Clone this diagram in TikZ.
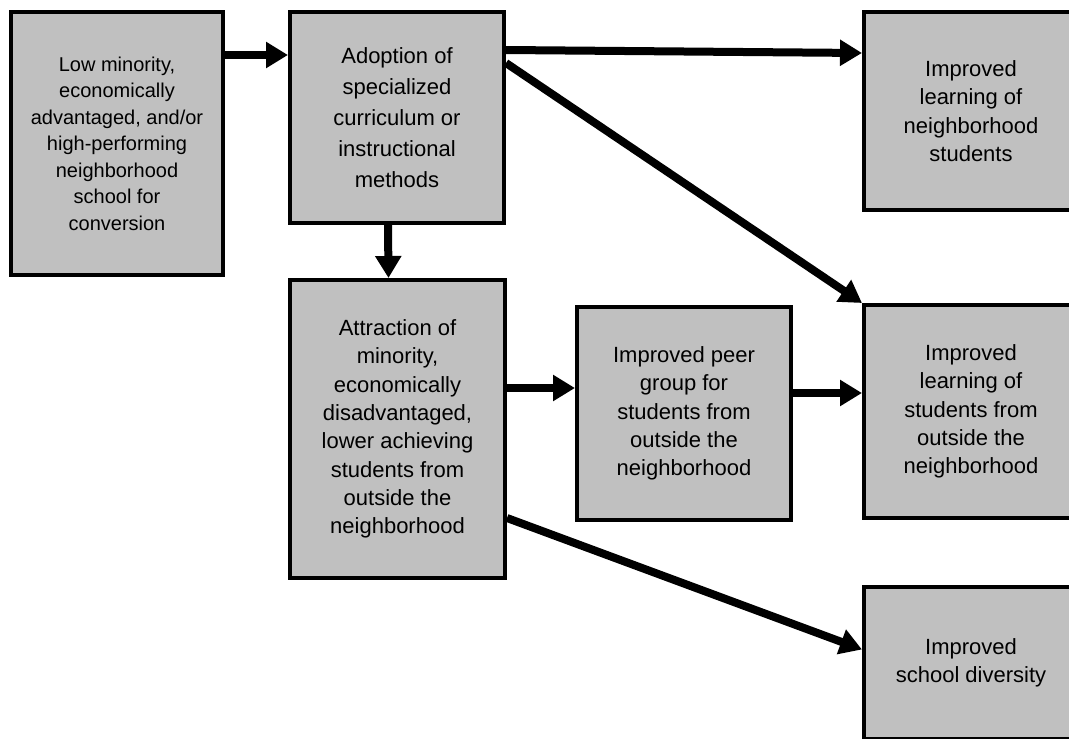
\documentclass[tikz,border=0pt]{standalone}
\usepackage[x11names]{xcolor}
\usepackage{fontspec}
\setmainfont{Liberation Sans}
\usetikzlibrary{arrows.meta}

\definecolor{boxgray}{HTML}{C0C0C0}

\begin{document}
\begin{tikzpicture}[x = 1pt, y = -1pt,
    stage/.style = {draw, line width = 4pt, fill = boxgray, align = center, inner sep = 0pt,
        font = \fontsize{22}{28.3}\selectfont},
    flow/.style = {line width = 8pt, -{Triangle[length = 22pt, width = 25pt]}}]
    \useasboundingbox (0, 0) rectangle (1069, 739);

    % left and middle column
    \node [stage, minimum width = 212pt, minimum height = 263pt, font = \fontsize{20}{26.5}\selectfont] (school) at (117, 143.5)
        {Low minority,\\economically\\advantaged, and/or\\high-performing\\neighborhood\\school for\\conversion};
    \node [stage, minimum width = 214pt, minimum height = 211pt, font = \fontsize{22}{31}\selectfont] (adopt) at (397, 117.5)
        {Adoption of\\specialized\\curriculum or\\instructional\\methods};
    \node [stage, minimum width = 215pt, minimum height = 298pt] (attract) at (397.5, 429)
        {Attraction of\\minority,\\economically\\disadvantaged,\\lower achieving\\students from\\outside the\\neighborhood};
    \node [stage, minimum width = 214pt, minimum height = 213pt] (peer) at (684, 413.5)
        {Improved peer\\group for\\students from\\outside the\\neighborhood};

    % outcomes, cut by the right edge
    \node [stage, minimum width = 214pt, minimum height = 198pt] (learnin) at (971, 111)
        {Improved\\learning of\\neighborhood\\students};
    \node [stage, minimum width = 214pt, minimum height = 213pt] (learnout) at (971, 411.5)
        {Improved\\learning of\\students from\\outside the\\neighborhood};
    \node [stage, minimum width = 214pt, minimum height = 152pt] (diverse) at (971, 662.5)
        {Improved\\school diversity};

    % arrows
    \draw [flow] ([yshift = -45pt] school.north east) -- ([yshift = -45pt] adopt.north west);
    \draw [flow] ([yshift = -40pt] adopt.north east) -- ([yshift = -43pt] learnin.north west);
    \draw [flow] ([yshift = -53pt] adopt.north east) -- (learnout.north west);
    \draw [flow] ([xshift = -9pt] adopt.south) -- ([xshift = -9pt] attract.north);
    \draw [flow] ([yshift = -110pt] attract.north east) -- ([yshift = -83pt] peer.north west);
    \draw [flow] ([yshift = -88pt] peer.north east) -- ([yshift = -90pt] learnout.north west);
    \draw [flow] ([yshift = -240pt] attract.north east) -- ([yshift = -65pt] diverse.north west);
\end{tikzpicture}
\end{document}
